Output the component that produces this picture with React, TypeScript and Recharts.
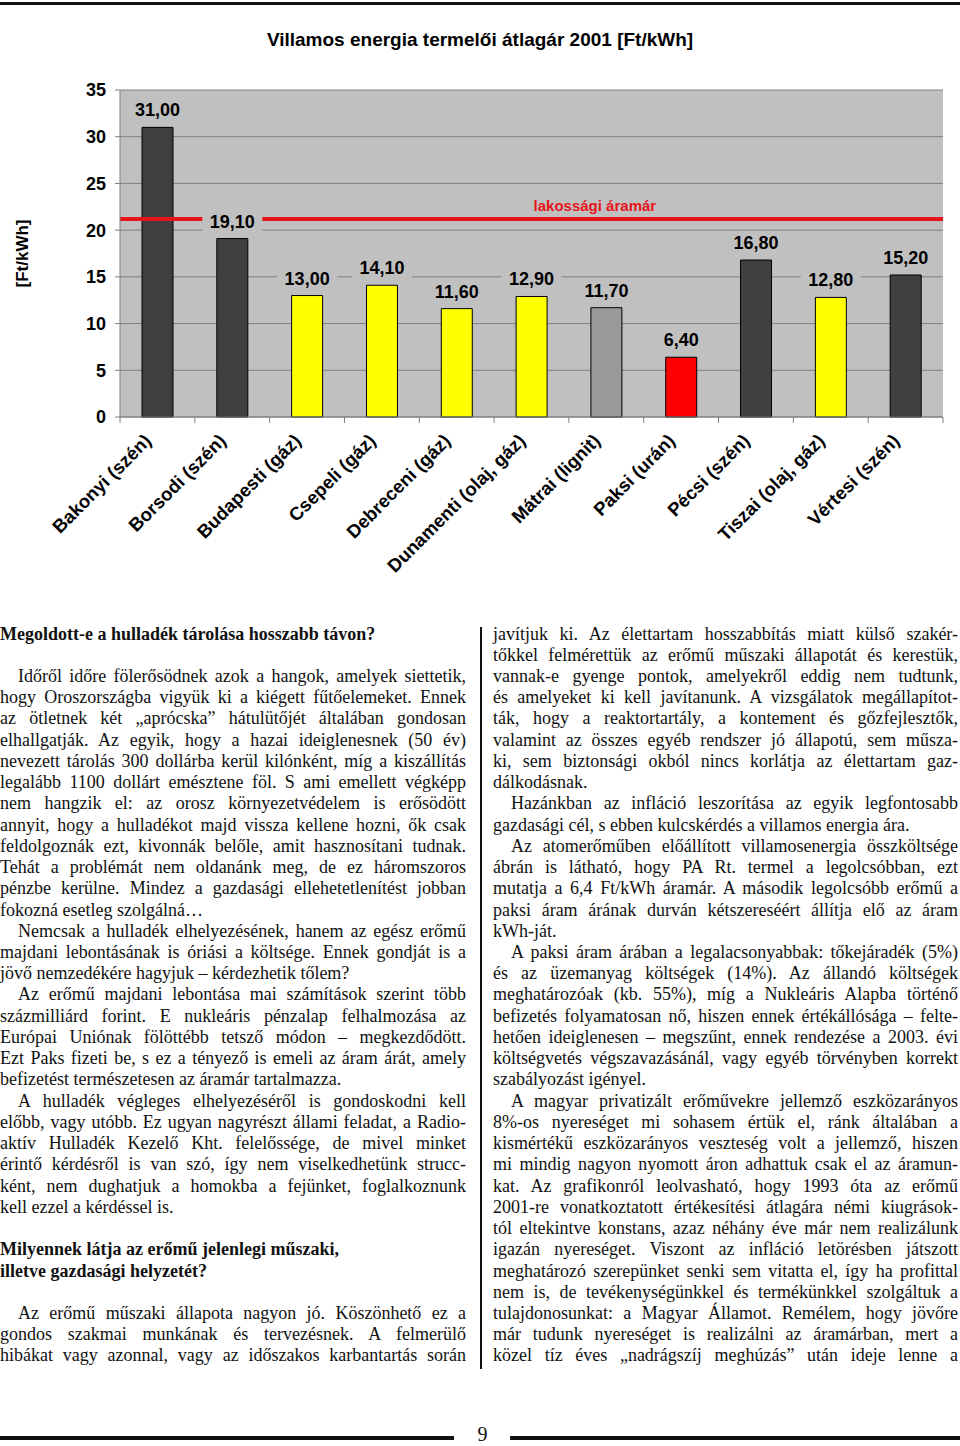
import React from 'react';
import { BarChart, Bar, XAxis, YAxis, CartesianGrid, Cell, LabelList, ReferenceLine } from 'recharts';

// chart data
const plants = [
  'Bakonyi (szén)',
  'Borsodi (szén)',
  'Budapesti (gáz)',
  'Csepeli (gáz)',
  'Debreceni (gáz)',
  'Dunamenti (olaj, gáz)',
  'Mátrai (lignit)',
  'Paksi (urán)',
  'Pécsi (szén)',
  'Tiszai (olaj, gáz)',
  'Vértesi (szén)',
];
const prices = [31.0, 19.1, 13.0, 14.1, 11.6, 12.9, 11.7, 6.4, 16.8, 12.8, 15.2];
const fuel = ['coal', 'coal', 'gas', 'gas', 'gas', 'gas', 'lignite', 'uranium', 'coal', 'gas', 'coal'];
const yTicks = [0, 5, 10, 15, 20, 25, 30, 35];
const residentialPrice = 21.2;
const residentialLabel = 'lakossági áramár';

const fuelColor: Record<string, string> = {
  coal: '#404040',
  gas: '#FFFF00',
  lignite: '#999999',
  uranium: '#FF0000',
};

const data = plants.map((name, i) => ({ name, price: prices[i], fuel: fuel[i] }));

// article text, one entry per printed line
// H = bold heading, I = indented paragraph start, J = justified, L = last line of paragraph, B = blank
const leftLines: [string, string][] = [
  ['Megoldott-e a hulladék tárolása hosszabb távon?', 'H'],
  ['', 'B'],
  ['Időről időre fölerősödnek azok a hangok, amelyek siettetik,', 'I'],
  ['hogy Oroszországba vigyük ki a kiégett fűtőelemeket. Ennek', 'J'],
  ['az ötletnek két „aprócska” hátulütőjét általában gondosan', 'J'],
  ['elhallgatják. Az egyik, hogy a hazai ideiglenesnek (50 év)', 'J'],
  ['nevezett tárolás 300 dollárba kerül kilónként, míg a kiszállítás', 'J'],
  ['legalább 1100 dollárt emésztene föl. S ami emellett végképp', 'J'],
  ['nem hangzik el: az orosz környezetvédelem is erősödött', 'J'],
  ['annyit, hogy a hulladékot majd vissza kellene hozni, ők csak', 'J'],
  ['feldolgoznák ezt, kivonnák belőle, amit hasznosítani tudnak.', 'J'],
  ['Tehát a problémát nem oldanánk meg, de ez háromszoros', 'J'],
  ['pénzbe kerülne. Mindez a gazdasági ellehetetlenítést jobban', 'J'],
  ['fokozná esetleg szolgálná…', 'L'],
  ['Nemcsak a hulladék elhelyezésének, hanem az egész erőmű', 'I'],
  ['majdani lebontásának is óriási a költsége. Ennek gondját is a', 'J'],
  ['jövő nemzedékére hagyjuk – kérdezhetik tőlem?', 'L'],
  ['Az erőmű majdani lebontása mai számítások szerint több', 'I'],
  ['százmilliárd forint. E nukleáris pénzalap felhalmozása az', 'J'],
  ['Európai Uniónak fölöttébb tetsző módon – megkezdődött.', 'J'],
  ['Ezt Paks fizeti be, s ez a tényező is emeli az áram árát, amely', 'J'],
  ['befizetést természetesen az áramár tartalmazza.', 'L'],
  ['A hulladék végleges elhelyezéséről is gondoskodni kell', 'I'],
  ['előbb, vagy utóbb. Ez ugyan nagyrészt állami feladat, a Radio-', 'J'],
  ['aktív Hulladék Kezelő Kht. felelőssége, de mivel minket', 'J'],
  ['érintő kérdésről is van szó, így nem viselkedhetünk strucc-', 'J'],
  ['ként, nem dughatjuk a homokba a fejünket, foglalkoznunk', 'J'],
  ['kell ezzel a kérdéssel is.', 'L'],
  ['', 'B'],
  ['Milyennek látja az erőmű jelenlegi műszaki,', 'H'],
  ['illetve gazdasági helyzetét?', 'H'],
  ['', 'B'],
  ['Az erőmű műszaki állapota nagyon jó. Köszönhető ez a', 'I'],
  ['gondos szakmai munkának és tervezésnek. A felmerülő', 'J'],
  ['hibákat vagy azonnal, vagy az időszakos karbantartás során', 'J'],
];

const rightLines: [string, string][] = [
  ['javítjuk ki. Az élettartam hosszabbítás miatt külső szakér-', 'J'],
  ['tőkkel felmérettük az erőmű műszaki állapotát és kerestük,', 'J'],
  ['vannak-e gyenge pontok, amelyekről eddig nem tudtunk,', 'J'],
  ['és amelyeket ki kell javítanunk. A vizsgálatok megállapítot-', 'J'],
  ['ták, hogy a reaktortartály, a kontement és gőzfejlesztők,', 'J'],
  ['valamint az összes egyéb rendszer jó állapotú, sem műsza-', 'J'],
  ['ki, sem biztonsági okból nincs korlátja az élettartam gaz-', 'J'],
  ['dálkodásnak.', 'L'],
  ['Hazánkban az infláció leszorítása az egyik legfontosabb', 'I'],
  ['gazdasági cél, s ebben kulcskérdés a villamos energia ára.', 'L'],
  ['Az atomerőműben előállított villamosenergia összköltsége', 'I'],
  ['ábrán is látható, hogy PA Rt. termel a legolcsóbban, ezt', 'J'],
  ['mutatja a 6,4 Ft/kWh áramár. A második legolcsóbb erőmű a', 'J'],
  ['paksi áram árának durván kétszereséért állítja elő az áram', 'J'],
  ['kWh-ját.', 'L'],
  ['A paksi áram árában a legalacsonyabbak: tőkejáradék (5%)', 'I'],
  ['és az üzemanyag költségek (14%). Az állandó költségek', 'J'],
  ['meghatározóak (kb. 55%), míg a Nukleáris Alapba történő', 'J'],
  ['befizetés folyamatosan nő, hiszen ennek értékállósága – felte-', 'J'],
  ['hetően ideiglenesen – megszűnt, ennek rendezése a 2003. évi', 'J'],
  ['költségvetés végszavazásánál, vagy egyéb törvényben korrekt', 'J'],
  ['szabályozást igényel.', 'L'],
  ['A magyar privatizált erőművekre jellemző eszközarányos', 'I'],
  ['8%-os nyereséget mi sohasem értük el, ránk általában a', 'J'],
  ['kismértékű eszközarányos veszteség volt a jellemző, hiszen', 'J'],
  ['mi mindig nagyon nyomott áron adhattuk csak el az áramun-', 'J'],
  ['kat. Az grafikonról leolvasható, hogy 1993 óta az erőmű', 'J'],
  ['2001-re vonatkoztatott értékesítési átlagára némi kiugrások-', 'J'],
  ['tól eltekintve konstans, azaz néhány éve már nem realizálunk', 'J'],
  ['igazán nyereséget. Viszont az infláció letörésben játszott', 'J'],
  ['meghatározó szerepünket senki sem vitatta el, így ha profittal', 'J'],
  ['nem is, de tevékenységünkkel és termékünkkel szolgáltuk a', 'J'],
  ['tulajdonosunkat: a Magyar Államot. Remélem, hogy jövőre', 'J'],
  ['már tudunk nyereséget is realizálni az áramárban, mert a', 'J'],
  ['közel tíz éves „nadrágszíj meghúzás” után ideje lenne a', 'J'],
];

const SANS = '"Liberation Sans", Arial, sans-serif';
const SERIF = '"Liberation Serif", "Times New Roman", serif';

const CHART_W = 960;
const MARGIN = { top: 90, right: 17, bottom: 33, left: 60 };
const Y_AXIS_W = 60;
const plotW = CHART_W - MARGIN.left - MARGIN.right - Y_AXIS_W;
const bandW = plotW / plants.length;

const fmt = (v: number) => v.toFixed(2).replace('.', ',');

function CategoryTick({ x, y, payload, index }: any) {
  const lx = x - 5;
  const ly = y + 25;
  return (
    <g>
      <line x1={x - bandW / 2} x2={x - bandW / 2} y1={y} y2={y + 6} stroke="#808080" />
      {index === plants.length - 1 && (
        <line x1={x + bandW / 2} x2={x + bandW / 2} y1={y} y2={y + 6} stroke="#808080" />
      )}
      <text
        x={lx}
        y={ly}
        transform={`rotate(-45 ${lx} ${ly})`}
        textAnchor="end"
        fontFamily={SANS}
        fontWeight="bold"
        fontSize={18.5}
        fill="#000"
      >
        {payload.value}
      </text>
    </g>
  );
}

function ValueLabel({ x, y, width, value }: any) {
  const cx = x + width / 2;
  return (
    <g>
      <rect x={cx - 30} y={y - 29} width={60} height={22} fill="#C0C0C0" />
      <text x={cx} y={y - 11} textAnchor="middle" fontFamily={SANS} fontWeight="bold" fontSize={18} fill="#000">
        {fmt(value)}
      </text>
    </g>
  );
}

function RefLabel({ viewBox }: any) {
  const tx = viewBox.x + viewBox.width * 0.577;
  return (
    <text x={tx} y={viewBox.y - 8} textAnchor="middle" fontFamily={SANS} fontWeight="bold" fontSize={15} fill="#E8141C">
      {residentialLabel}
    </text>
  );
}

function AxisTitle({ viewBox }: any) {
  const cy = viewBox.y + viewBox.height / 2;
  return (
    <text
      x={22}
      y={cy}
      transform={`rotate(-90 22 ${cy})`}
      textAnchor="middle"
      dominantBaseline="central"
      fontFamily={SANS}
      fontWeight="bold"
      fontSize={17}
      fill="#000"
    >
      [Ft/kWh]
    </text>
  );
}

const LINE_H = 21.24;

function Column({ lines, left, width }: { lines: [string, string][]; left: number; width: number }) {
  return (
    <div style={{ position: 'absolute', left, top: 623.5, width, fontFamily: SERIF, fontSize: 18, color: '#111' }}>
      {lines.map(([t, kind], i) => (
        <div
          key={i}
          style={{
            height: LINE_H,
            lineHeight: `${LINE_H}px`,
            textAlign: kind === 'J' || kind === 'I' ? 'justify' : 'left',
            textAlignLast: kind === 'J' || kind === 'I' ? 'justify' : 'left',
            textIndent: kind === 'I' ? 18 : 0,
            fontWeight: kind === 'H' ? 'bold' : 'normal',
          }}
        >
          {t || '\u00a0'}
        </div>
      ))}
    </div>
  );
}

export default function App() {
  return (
    <div style={{ position: 'absolute', left: 0, top: 0, width: 960, height: 1446, background: '#fff', overflow: 'hidden' }}>
      <div style={{ position: 'absolute', left: 0, top: 2, width: 960, height: 3, background: '#111' }} />
      <div
        style={{
          position: 'absolute',
          left: 0,
          top: 29,
          width: 960,
          textAlign: 'center',
          fontFamily: SANS,
          fontWeight: 'bold',
          fontSize: 19,
          lineHeight: '22px',
          color: '#000',
        }}
      >
        Villamos energia termelői átlagár 2001 [Ft/kWh]
      </div>
      <div style={{ position: 'absolute', left: 0, top: 0 }}>
        <BarChart width={CHART_W} height={600} data={data} margin={MARGIN}>
          <CartesianGrid vertical={false} stroke="#808080" fill="#C0C0C0" fillOpacity={1} />
          <XAxis
            dataKey="name"
            interval={0}
            height={150}
            tickLine={false}
            tickSize={0}
            tickMargin={0}
            axisLine={{ stroke: '#808080' }}
            tick={<CategoryTick />}
          />
          <YAxis
            domain={[0, 35]}
            ticks={yTicks}
            interval={0}
            width={Y_AXIS_W}
            tickSize={5}
            tickMargin={9}
            axisLine={{ stroke: '#808080' }}
            tickLine={{ stroke: '#808080' }}
            tick={{ fill: '#000', fontSize: 18, fontWeight: 'bold', fontFamily: SANS }}
            label={{ content: AxisTitle }}
          />
          <YAxis
            yAxisId="r"
            orientation="right"
            domain={[0, 35]}
            width={0}
            tick={false}
            tickLine={false}
            axisLine={{ stroke: '#808080' }}
          />
          <Bar dataKey="price" barSize={31} stroke="#000" strokeWidth={1} isAnimationActive={false}>
            {data.map((d, i) => (
              <Cell key={i} fill={fuelColor[d.fuel]} />
            ))}
            <LabelList dataKey="price" content={<ValueLabel />} />
          </Bar>
          <ReferenceLine y={residentialPrice} stroke="#E8141C" strokeWidth={4} label={<RefLabel />} />
        </BarChart>
      </div>

      <Column lines={leftLines} left={0} width={466} />
      <Column lines={rightLines} left={493} width={465} />
      <div style={{ position: 'absolute', left: 480, top: 627, width: 2, height: 742, background: '#111' }} />

      <div style={{ position: 'absolute', left: 0, top: 1436, width: 454, height: 4, background: '#111' }} />
      <div style={{ position: 'absolute', left: 510, top: 1436, width: 450, height: 4, background: '#111' }} />
      <div
        style={{
          position: 'absolute',
          left: 455,
          top: 1423,
          width: 55,
          textAlign: 'center',
          fontFamily: SERIF,
          fontSize: 20,
          lineHeight: '22px',
          color: '#111',
        }}
      >
        9
      </div>
    </div>
  );
}
